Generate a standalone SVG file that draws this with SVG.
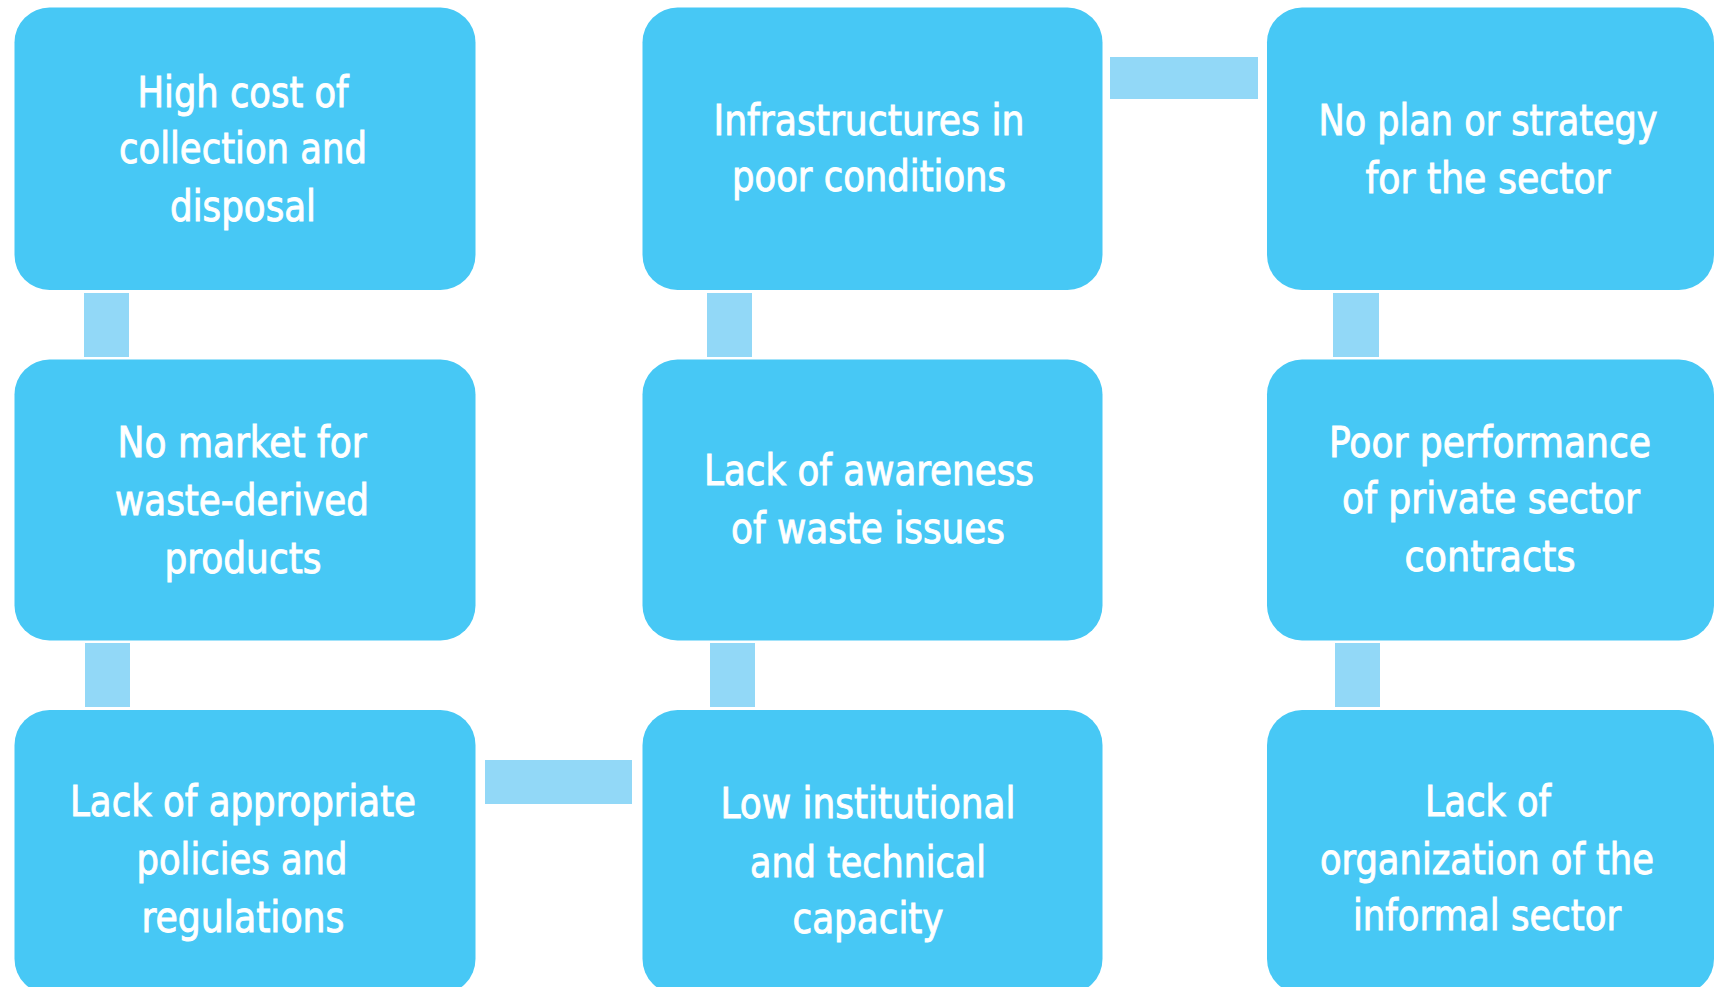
<svg xmlns="http://www.w3.org/2000/svg" width="1716" height="987" viewBox="0 0 1716 987">
  <style>
    .node { fill: #47c8f5; }
    .link { fill: #92d8f7; }
    .label { fill: #ffffff; stroke: #ffffff; stroke-width: 0.9px; font-family: "DejaVu Sans Condensed", "Liberation Sans", sans-serif; font-size: 43px; text-anchor: middle; }
  </style>
  <rect x="0" y="0" width="1716" height="987" fill="#ffffff"/>

  <!-- connectors between the nine challenge boxes -->
  <g id="connectors">
    <rect class="link" x="84" y="293" width="45" height="64"/>
    <rect class="link" x="85" y="643" width="45" height="64"/>
    <rect class="link" x="707" y="293" width="45" height="64"/>
    <rect class="link" x="710" y="643" width="45" height="64"/>
    <rect class="link" x="1333" y="293" width="46" height="64"/>
    <rect class="link" x="1335" y="643" width="45" height="64"/>
    <rect class="link" x="1110" y="57" width="148" height="42"/>
    <rect class="link" x="485" y="760" width="147" height="44"/>
  </g>

  <g id="high-cost">
    <rect class="node" x="14.5" y="7.5" width="461" height="282.5" rx="35"/>
    <text class="label" x="243" y="107" textLength="211" lengthAdjust="spacingAndGlyphs">High cost of</text>
    <text class="label" x="243" y="163" textLength="248" lengthAdjust="spacingAndGlyphs">collection and</text>
    <text class="label" x="243" y="221" textLength="146" lengthAdjust="spacingAndGlyphs">disposal</text>
  </g>

  <g id="infrastructures">
    <rect class="node" x="642.5" y="7.5" width="460" height="282.5" rx="35"/>
    <text class="label" x="869" y="135" textLength="311" lengthAdjust="spacingAndGlyphs">Infrastructures in</text>
    <text class="label" x="869" y="191" textLength="274" lengthAdjust="spacingAndGlyphs">poor conditions</text>
  </g>

  <g id="no-plan">
    <rect class="node" x="1267" y="7.5" width="447" height="282.5" rx="35"/>
    <text class="label" x="1488" y="135" textLength="339" lengthAdjust="spacingAndGlyphs">No plan or strategy</text>
    <text class="label" x="1488" y="193" textLength="245" lengthAdjust="spacingAndGlyphs">for the sector</text>
  </g>

  <g id="no-market">
    <rect class="node" x="14.5" y="359.5" width="461" height="281" rx="35"/>
    <text class="label" x="242" y="457" textLength="249" lengthAdjust="spacingAndGlyphs">No market for</text>
    <text class="label" x="242" y="515" textLength="254" lengthAdjust="spacingAndGlyphs">waste-derived</text>
    <text class="label" x="243" y="573" textLength="157" lengthAdjust="spacingAndGlyphs">products</text>
  </g>

  <g id="awareness">
    <rect class="node" x="642.5" y="359.5" width="460" height="281" rx="35"/>
    <text class="label" x="869" y="485" textLength="330" lengthAdjust="spacingAndGlyphs">Lack of awareness</text>
    <text class="label" x="868" y="543" textLength="274" lengthAdjust="spacingAndGlyphs">of waste issues</text>
  </g>

  <g id="private-sector">
    <rect class="node" x="1267" y="359.5" width="447" height="281" rx="35"/>
    <text class="label" x="1490" y="457" textLength="322" lengthAdjust="spacingAndGlyphs">Poor performance</text>
    <text class="label" x="1491" y="513" textLength="298" lengthAdjust="spacingAndGlyphs">of private sector</text>
    <text class="label" x="1490" y="571" textLength="171" lengthAdjust="spacingAndGlyphs">contracts</text>
  </g>

  <g id="policies">
    <rect class="node" x="14.5" y="710" width="461" height="284" rx="35"/>
    <text class="label" x="243" y="816" textLength="346" lengthAdjust="spacingAndGlyphs">Lack of appropriate</text>
    <text class="label" x="242" y="874" textLength="211" lengthAdjust="spacingAndGlyphs">policies and</text>
    <text class="label" x="243" y="932" textLength="203" lengthAdjust="spacingAndGlyphs">regulations</text>
  </g>

  <g id="capacity">
    <rect class="node" x="642.5" y="710" width="460" height="284" rx="35"/>
    <text class="label" x="868" y="818" textLength="295" lengthAdjust="spacingAndGlyphs">Low institutional</text>
    <text class="label" x="868" y="877" textLength="236" lengthAdjust="spacingAndGlyphs">and technical</text>
    <text class="label" x="868" y="933" textLength="151" lengthAdjust="spacingAndGlyphs">capacity</text>
  </g>

  <g id="informal-sector">
    <rect class="node" x="1267" y="710" width="447" height="284" rx="35"/>
    <text class="label" x="1488" y="816" textLength="126" lengthAdjust="spacingAndGlyphs">Lack of</text>
    <text class="label" x="1487" y="874" textLength="334" lengthAdjust="spacingAndGlyphs">organization of the</text>
    <text class="label" x="1487" y="930" textLength="268" lengthAdjust="spacingAndGlyphs">informal sector</text>
  </g>
</svg>
